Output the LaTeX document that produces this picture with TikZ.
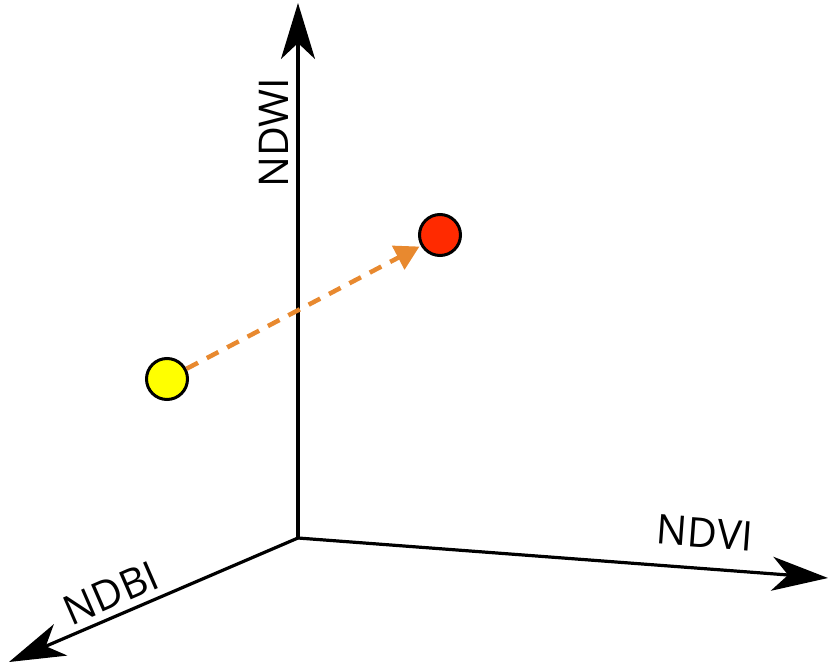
\documentclass[tikz,border=0pt]{standalone}
\usepackage{fontspec}
\setmainfont{Open Sans}
\usetikzlibrary{arrows.meta}
\definecolor{dotred}{HTML}{FF2A00}
\definecolor{dotyellow}{HTML}{FFFF00}
\definecolor{moveorange}{HTML}{E8892F}
\begin{document}
\begin{tikzpicture}[x=1pt,y=-1pt,
  axis/.style={line width=3.2pt,-{Stealth[length=56pt,width=34pt,inset=16pt]}},
  axlabel/.style={font=\fontsize{41}{45}\selectfont, inner sep=0pt},
  dot/.style={circle, draw=black, line width=3pt, minimum size=41pt, inner sep=0pt},
  move/.style={moveorange, line width=4.5pt, dash pattern=on 13pt off 10pt, -{Triangle[length=24pt,width=26pt]}}
]
\useasboundingbox (0,0) rectangle (828,666);
\coordinate (O) at (298,538);
\coordinate (ztip) at (298,3);
\coordinate (xtip) at (828,578);
\coordinate (ytip) at (9,662);
\draw[axis] (O) -- (ztip);
\draw[axis] (O) -- (xtip);
\draw[axis] (O) -- (ytip);
\node[axlabel, rotate=90] (lz) at (274,133) {NDWI};
\node[axlabel, rotate=-4.3] (lx) at (705,533) {NDVI};
\node[axlabel, rotate=23.5] (ly) at (111,593) {NDBI};
\node[dot, fill=dotyellow] (a) at (167,379) {};
\node[dot, fill=dotred] (b) at (440,235) {};
\draw[move] (a) -- ([xshift=-5pt,yshift=4pt]b.south west);
\end{tikzpicture}
\end{document}
